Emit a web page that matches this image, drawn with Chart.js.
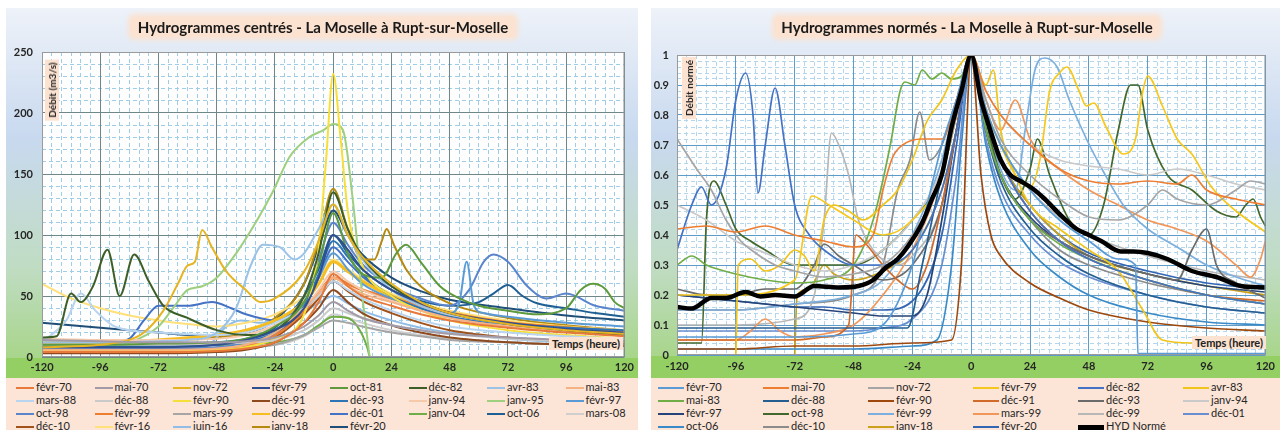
<!DOCTYPE html>
<html><head><meta charset="utf-8">
<script src="https://cdn.jsdelivr.net/npm/chart.js@4.4.1/dist/chart.umd.min.js"></script>
<style>
body{margin:0;background:#fff;width:1284px;height:430px;overflow:hidden;font-family:Lato,'Open Sans',sans-serif;}
.panel{position:absolute;top:8px;height:422px;overflow:hidden;}
.panel canvas{position:absolute;left:0;top:0;}
.title{position:absolute;top:9px;font:bold 15px Lato;color:#1a1a1a;background:#fbe2d1;padding:1px 6px;border-radius:3px;box-shadow:0 0 5px 3px #fbe2d1;white-space:nowrap;transform:translateX(-50%);}
.ytitle{position:absolute;font:bold 10px Lato;color:#222;background:#fbe2d1;padding:1px 3px;transform:translate(-50%,-50%) rotate(-90deg);white-space:nowrap;}
.xtitle{position:absolute;font:bold 11px Lato;color:#222;background:#fbe2d1;padding:0 3px;white-space:nowrap;}
.legend{position:absolute;left:0;top:370px;right:0;bottom:0;background:#fce4d6;display:grid;align-content:start;padding-top:2px;}
.item{height:13px;line-height:13px;font-size:11px;color:#262626;white-space:nowrap;}
.item i{display:inline-block;vertical-align:middle;margin-right:2px;}
</style></head>
<body>
<div class="panel" id="p1" style="left:6px;width:632px;">
  <canvas id="c1" width="632" height="370"></canvas>
  <div class="title" style="left:317px;">Hydrogrammes centrés - La Moselle à Rupt-sur-Moselle</div>
  <div class="ytitle" style="left:46px;top:82px;">Débit (m3/s)</div>
  <div class="xtitle" style="left:543px;top:329px;">Temps (heure)</div>
  <div class="legend" id="l1" style="grid-template-columns:repeat(8,78.5px);padding-left:10px;"></div>
</div>
<div class="panel" id="p2" style="left:651px;width:629px;">
  <canvas id="c2" width="629" height="370"></canvas>
  <div class="title" style="left:316px;">Hydrogrammes normés - La Moselle à Rupt-sur-Moselle</div>
  <div class="ytitle" style="left:38px;top:80px;">Débit normé</div>
  <div class="xtitle" style="left:541px;top:328px;">Temps (heure)</div>
  <div class="legend" id="l2" style="grid-template-columns:repeat(6,105px);padding-left:7px;"></div>
</div>
<script>
// ---- Hydrogrammes centrés (m3/s), [heure, débit]
const q_fevr70 = [[-120,4],[-72,4],[-48,5],[-36,7],[-24,12],[-12,28],[-6,45],[0,68],[6,58],[12,50],[24,42],[36,35],[48,30],[72,24],[96,20],[120,17]];
const q_mai70 = [[-120,14],[-96,13],[-72,12],[-48,12],[-36,13],[-24,16],[-12,25],[-6,34],[0,45],[6,38],[12,32],[24,26],[36,22],[48,19],[72,16],[96,14],[120,13]];
const q_nov72 = [[-120,8],[-96,10],[-84,14],[-78,20],[-70,38],[-64,60],[-60,75],[-57,78],[-54,104],[-50,90],[-44,70],[-36,55],[-30,45],[-24,48],[-12,70],[-6,95],[0,125],[6,100],[12,82],[24,60],[36,45],[48,36],[72,27],[96,22],[120,19]];
const q_fevr79 = [[-120,8],[-96,8],[-72,8],[-48,10],[-36,14],[-24,22],[-12,40],[-6,65],[0,100],[6,88],[12,72],[24,55],[36,44],[48,36],[72,28],[96,23],[120,20]];
const q_oct81 = [[-120,10],[-96,10],[-72,11],[-48,12],[-36,15],[-24,25],[-12,45],[-6,75],[0,118],[6,85],[12,68],[20,65],[26,85],[30,92],[36,78],[44,58],[52,48],[60,42],[72,38],[84,35],[96,40],[102,55],[107,60],[112,56],[116,45],[120,40]];
const q_dec82 = [[-120,16],[-114,17],[-108,52],[-104,45],[-99,58],[-93,88],[-88,50],[-82,84],[-76,62],[-70,42],[-60,32],[-48,22],[-36,18],[-24,22],[-12,50],[-6,85],[0,135],[6,105],[12,82],[24,58],[36,45],[48,36],[72,27],[96,22],[120,18]];
const q_avr83 = [[-120,12],[-96,12],[-72,13],[-60,14],[-48,20],[-40,40],[-34,75],[-29,92],[-22,90],[-16,80],[-12,85],[-6,105],[0,125],[6,100],[12,80],[24,55],[36,42],[48,35],[72,27],[96,22],[120,19]];
const q_mai83 = [[-120,6],[-72,6],[-48,7],[-36,10],[-24,20],[-12,40],[-6,52],[0,65],[6,58],[12,52],[24,45],[36,38],[48,32],[72,25],[96,21],[120,18]];
const q_mars88 = [[-120,12],[-110,30],[-104,52],[-98,38],[-90,25],[-72,20],[-48,18],[-36,20],[-24,28],[-12,40],[-6,50],[0,62],[6,55],[12,48],[24,38],[36,30],[48,25],[72,20],[96,17],[120,15]];
const q_dec88 = [[-120,10],[-72,10],[-48,11],[-24,14],[-12,22],[-6,30],[0,40],[6,36],[12,32],[24,26],[36,22],[48,19],[72,15],[96,13],[120,12]];
const q_fevr90 = [[-120,5],[-72,5],[-48,6],[-36,8],[-24,15],[-12,35],[-6,90],[-3,160],[0,232],[3,180],[6,120],[12,75],[24,50],[36,38],[48,30],[72,22],[96,18],[120,15]];
const q_dec91 = [[-120,3],[-72,3],[-48,4],[-36,6],[-24,12],[-12,28],[-6,40],[0,55],[6,45],[12,36],[24,26],[36,20],[48,16],[72,12],[96,10],[120,9]];
const q_dec93 = [[-120,9],[-72,9],[-48,10],[-36,13],[-24,20],[-12,42],[-6,68],[0,95],[6,82],[12,68],[24,50],[36,40],[48,33],[72,27],[96,24],[120,22]];
const q_janv94 = [[-120,15],[-96,14],[-72,14],[-48,15],[-36,18],[-24,26],[-12,40],[-6,55],[0,70],[6,62],[12,55],[24,46],[36,40],[48,34],[72,26],[96,22],[120,19]];
const q_janv95 = [[-120,8],[-96,9],[-84,12],[-72,25],[-66,40],[-60,55],[-54,58],[-48,65],[-40,85],[-32,110],[-25,135],[-18,164],[-10,180],[-4,186],[0,191],[4,186],[8,130],[12,50],[15,0]];
const q_fevr97 = [[-120,10],[-72,10],[-48,12],[-36,15],[-24,22],[-12,45],[-6,65],[0,85],[6,72],[12,60],[24,48],[36,40],[48,36],[52,45],[55,78],[58,42],[62,36],[72,33],[96,28],[120,25]];
const q_oct98 = [[-120,7],[-72,7],[-48,8],[-36,12],[-24,20],[-12,50],[-6,80],[0,110],[6,92],[12,76],[24,58],[36,48],[48,42],[56,55],[62,78],[66,84],[72,78],[80,58],[88,48],[96,52],[108,42],[120,38]];
const q_fevr99 = [[-120,5],[-72,5],[-48,6],[-36,9],[-24,18],[-12,38],[-6,52],[0,65],[6,60],[12,55],[24,48],[36,42],[48,36],[72,28],[96,24],[120,21]];
const q_mars99 = [[-120,6],[-72,6],[-48,7],[-24,10],[-12,18],[-6,24],[0,30],[6,28],[12,25],[24,20],[36,17],[48,14],[72,12],[96,10],[120,9]];
const q_dec99 = [[-120,12],[-96,12],[-72,14],[-48,18],[-36,22],[-24,30],[-12,45],[-6,60],[0,78],[6,70],[12,62],[24,50],[36,42],[48,36],[72,28],[96,24],[120,21]];
const q_dec01 = [[-120,8],[-96,10],[-84,15],[-78,30],[-72,42],[-60,42],[-50,45],[-42,40],[-36,35],[-24,30],[-12,45],[-6,65],[0,90],[6,78],[12,66],[24,50],[36,40],[48,34],[72,26],[96,22],[120,19]];
const q_janv04 = [[-120,9],[-72,9],[-48,10],[-24,12],[-12,18],[-6,26],[0,33],[6,32],[10,25],[14,8],[15,0]];
const q_oct06 = [[-120,9],[-72,9],[-48,10],[-36,14],[-24,24],[-12,50],[-6,72],[0,100],[6,85],[12,72],[24,55],[36,46],[48,42],[60,45],[66,52],[72,59],[78,50],[84,44],[96,40],[108,36],[120,33]];
const q_mars08 = [[-120,7],[-72,7],[-48,8],[-24,10],[-12,17],[-6,25],[0,35],[6,32],[12,28],[24,22],[36,18],[48,15],[72,12],[96,10],[120,9]];
const q_dec10 = [[-120,4],[-72,4],[-48,5],[-36,8],[-24,16],[-12,35],[-6,48],[0,62],[6,54],[12,46],[24,36],[36,28],[48,22],[72,16],[96,13],[120,11]];
const q_fevr16 = [[-120,60],[-108,48],[-96,40],[-84,34],[-72,30],[-60,27],[-48,25],[-36,28],[-24,35],[-12,50],[-6,65],[0,80],[6,72],[12,64],[24,52],[36,44],[48,38],[72,30],[96,25],[120,22]];
const q_juin16 = [[-120,5],[-72,5],[-56,6],[-50,12],[-44,25],[-38,30],[-30,28],[-24,30],[-12,38],[-6,44],[0,50],[6,44],[12,38],[24,30],[36,24],[48,20],[72,15],[96,12],[120,10]];
const q_janv18 = [[-120,12],[-96,12],[-72,13],[-48,16],[-36,20],[-24,32],[-12,60],[-6,95],[0,138],[6,105],[12,80],[17,80],[20,95],[22,105],[25,92],[30,72],[36,58],[48,44],[72,32],[96,26],[120,22]];
const q_fevr20 = [[-120,28],[-108,26],[-96,24],[-84,22],[-72,20],[-60,18],[-48,17],[-36,20],[-24,30],[-12,60],[-6,90],[0,120],[6,100],[12,84],[24,65],[36,54],[48,47],[72,40],[96,34],[120,30]];

const centresNames = ['févr-70','mai-70','nov-72','févr-79','oct-81','déc-82','avr-83','mai-83','mars-88','déc-88','févr-90','déc-91','déc-93','janv-94','janv-95','févr-97','oct-98','févr-99','mars-99','déc-99','déc-01','janv-04','oct-06','mars-08','déc-10','févr-16','juin-16','janv-18','févr-20'];
const centresSeries = [q_fevr70,q_mai70,q_nov72,q_fevr79,q_oct81,q_dec82,q_avr83,q_mai83,q_mars88,q_dec88,q_fevr90,q_dec91,q_dec93,q_janv94,q_janv95,q_fevr97,q_oct98,q_fevr99,q_mars99,q_dec99,q_dec01,q_janv04,q_oct06,q_mars08,q_dec10,q_fevr16,q_juin16,q_janv18,q_fevr20];
const centresColors = ['#e8793a','#a29aa6','#e6b422','#2f4f8f','#5e9a3c','#3d5f27','#9cc3e6','#f4b183','#b9d4ee','#c9c9c9','#f7df3a','#8e4a1e','#2e75b6','#f6c9ab','#9ecf7f','#5b9bd5','#5a84cc','#ed7d31','#a5a5a5','#f5bd1f','#4472c4','#70ad47','#1f5f93','#d0cece','#a0521a','#ffe07a','#8fbde8','#b58a10','#1f4e79'];
const centresWidths = centresNames.map(n => (n === 'févr-99' || n === 'déc-99') ? 3 : 2);

// ---- Hydrogrammes normés, [heure, débit / débit de pointe]
const n_fevr70 = [[-120,0.06],[-96,0.06],[-72,0.06],[-48,0.07],[-36,0.1],[-24,0.3],[-18,0.5],[-12,0.7],[-6,0.85],[0,1],[6,0.82],[12,0.7],[24,0.55],[36,0.45],[48,0.38],[60,0.32],[67,0.3],[68,0.005],[120,0.005]];
const n_mai70 = [[-120,0.42],[-108,0.43],[-96,0.41],[-84,0.43],[-72,0.4],[-60,0.38],[-48,0.36],[-40,0.4],[-36,0.55],[-32,0.66],[-28,0.7],[-20,0.72],[-12,0.72],[-6,0.85],[0,1],[6,0.88],[12,0.8],[24,0.7],[36,0.62],[48,0.58],[60,0.57],[72,0.58],[84,0.57],[90,0.6],[96,0.55],[108,0.52],[120,0.5]];
const n_nov72 = [[-120,0.72],[-116,0.67],[-112,0.62],[-106,0.55],[-100,0.45],[-94,0.38],[-88,0.34],[-80,0.3],[-72,0.28],[-60,0.26],[-48,0.27],[-36,0.3],[-24,0.4],[-12,0.6],[-6,0.8],[0,1],[6,0.85],[12,0.72],[24,0.6],[36,0.52],[48,0.46],[60,0.45],[72,0.5],[78,0.55],[84,0.52],[96,0.5],[108,0.55],[114,0.58],[120,0.57]];
const n_fevr79 = [[-120,0.2],[-96,0.2],[-72,0.25],[-65,0.53],[-58,0.5],[-48,0.45],[-36,0.4],[-24,0.45],[-12,0.6],[-6,0.8],[0,1],[6,0.82],[12,0.7],[18,0.6],[24,0.56],[28,0.65],[32,0.88],[36,0.94],[39,0.96],[44,0.88],[47,0.83],[50,0.84],[55,0.76],[62,0.67],[67,0.72],[70,0.88],[72,0.93],[78,0.83],[84,0.72],[90,0.67],[98,0.56],[108,0.48],[120,0.41]];
const n_dec82 = [[-120,0.35],[-114,0.5],[-110,0.56],[-106,0.5],[-100,0.62],[-96,0.85],[-92,0.94],[-89,0.8],[-87,0.54],[-84,0.7],[-80,0.89],[-76,0.7],[-72,0.5],[-66,0.4],[-60,0.35],[-48,0.3],[-36,0.3],[-24,0.35],[-12,0.55],[-6,0.75],[0,1],[6,0.8],[12,0.65],[24,0.48],[36,0.38],[48,0.32],[72,0.25],[96,0.2],[120,0.17]];
const n_avr83 = [[-96,0.0],[-95,0.3],[-90,0.32],[-84,0.28],[-78,0.3],[-72,0.35],[-68,0.33],[-64,0.28],[-60,0.45],[-56,0.5],[-50,0.48],[-44,0.45],[-36,0.5],[-30,0.55],[-24,0.65],[-18,0.78],[-12,0.85],[-6,0.95],[0,1],[6,0.9],[9,0.95],[12,0.75],[18,0.6],[24,0.5],[36,0.42],[48,0.35],[60,0.28],[70,0.15],[78,0.05],[90,0.04],[100,0.04]];
const n_mai83 = [[-120,0.3],[-114,0.33],[-108,0.3],[-96,0.27],[-84,0.25],[-72,0.24],[-60,0.25],[-48,0.3],[-40,0.45],[-33,0.7],[-29,0.88],[-27,0.91],[-23,0.9],[-20,0.95],[-16,0.92],[-12,0.94],[-8,0.92],[-4,0.93],[0,1],[6,0.75],[12,0.6],[24,0.45],[36,0.37],[48,0.32],[72,0.25],[96,0.2],[120,0.17]];
const n_dec88 = [[-120,0.09],[-96,0.09],[-72,0.09],[-48,0.09],[-36,0.09],[-26,0.09],[-20,0.3],[-12,0.6],[-6,0.82],[0,1],[6,0.75],[12,0.58],[24,0.42],[36,0.33],[48,0.27],[72,0.2],[96,0.16],[120,0.14]];
const n_fevr90 = [[-120,0.02],[-96,0.02],[-72,0.03],[-48,0.03],[-24,0.04],[-8,0.05],[-4,0.3],[0,1],[4,0.6],[8,0.4],[12,0.33],[24,0.24],[36,0.19],[48,0.15],[72,0.11],[96,0.09],[120,0.08]];
const n_dec91 = [[-120,0.05],[-96,0.05],[-72,0.05],[-60,0.06],[-50,0.1],[-47,0.4],[-44,0.38],[-36,0.3],[-30,0.25],[-24,0.22],[-18,0.3],[-12,0.5],[-6,0.75],[0,1],[6,0.8],[12,0.65],[24,0.48],[36,0.38],[48,0.32],[72,0.25],[96,0.2],[120,0.18]];
const n_dec93 = [[-120,0.22],[-108,0.2],[-96,0.2],[-84,0.22],[-72,0.22],[-64,0.3],[-60,0.37],[-54,0.33],[-48,0.3],[-36,0.25],[-24,0.3],[-12,0.5],[-6,0.75],[0,1],[6,0.75],[12,0.6],[24,0.45],[36,0.38],[48,0.33],[72,0.27],[84,0.25],[90,0.35],[96,0.42],[100,0.3],[108,0.24],[120,0.19]];
const n_janv94 = [[-120,0.5],[-108,0.45],[-96,0.38],[-84,0.34],[-72,0.3],[-60,0.28],[-48,0.3],[-36,0.35],[-24,0.45],[-12,0.62],[-6,0.8],[0,1],[6,0.88],[12,0.8],[24,0.7],[36,0.65],[48,0.63],[60,0.62],[72,0.6],[84,0.62],[96,0.6],[108,0.57],[120,0.55]];
const n_fevr97 = [[-120,0.2],[-96,0.18],[-72,0.16],[-48,0.14],[-36,0.13],[-24,0.13],[-18,0.2],[-12,0.45],[-6,0.75],[0,1],[6,0.75],[12,0.6],[24,0.46],[36,0.38],[48,0.33],[72,0.27],[96,0.23],[120,0.21]];
const n_oct98 = [[-120,0.04],[-110,0.04],[-108,0.45],[-105,0.58],[-100,0.5],[-96,0.42],[-90,0.38],[-84,0.35],[-72,0.3],[-60,0.3],[-48,0.3],[-36,0.35],[-24,0.45],[-12,0.6],[-6,0.8],[0,1],[6,0.78],[12,0.6],[18,0.52],[24,0.62],[27,0.72],[32,0.6],[40,0.45],[48,0.4],[54,0.5],[60,0.75],[65,0.9],[68,0.9],[72,0.75],[80,0.6],[90,0.55],[100,0.48],[108,0.46],[112,0.5],[115,0.52],[118,0.46],[120,0.43]];
const n_fevr99 = [[-120,0.15],[-96,0.15],[-72,0.17],[-48,0.2],[-36,0.25],[-24,0.4],[-12,0.65],[-6,0.85],[0,1],[6,0.8],[12,0.62],[18,0.55],[22,0.75],[26,0.95],[30,0.99],[35,0.96],[40,0.85],[47,0.72],[54,0.61],[62,0.5],[72,0.42],[84,0.36],[96,0.3],[108,0.26],[120,0.23]];
const n_mars99 = [[-120,0.05],[-96,0.05],[-90,0.08],[-84,0.12],[-78,0.08],[-72,0.06],[-60,0.07],[-48,0.1],[-36,0.2],[-24,0.35],[-12,0.6],[-6,0.8],[0,1],[6,0.85],[12,0.75],[18,0.85],[24,0.72],[36,0.62],[48,0.55],[60,0.5],[72,0.45],[84,0.42],[96,0.38],[108,0.3],[114,0.26],[118,0.32],[120,0.38]];
const n_dec99 = [[-120,0.1],[-96,0.1],[-72,0.12],[-64,0.2],[-60,0.45],[-57,0.74],[-54,0.7],[-50,0.6],[-46,0.45],[-40,0.35],[-30,0.3],[-24,0.33],[-12,0.5],[-6,0.75],[0,1],[6,0.82],[12,0.7],[24,0.55],[36,0.46],[48,0.4],[72,0.33],[96,0.28],[120,0.25]];
const n_dec01 = [[-120,0.08],[-96,0.08],[-72,0.08],[-48,0.08],[-36,0.09],[-24,0.12],[-12,0.3],[-6,0.6],[0,1],[6,0.72],[12,0.55],[24,0.4],[36,0.31],[48,0.26],[72,0.2],[96,0.16],[120,0.14]];
const n_oct06 = [[-120,0.02],[-96,0.02],[-72,0.02],[-48,0.02],[-24,0.03],[-14,0.05],[-8,0.3],[-4,0.7],[0,1],[6,0.7],[12,0.52],[24,0.35],[36,0.26],[48,0.2],[72,0.14],[96,0.11],[120,0.1]];
const n_dec10 = [[-120,0.15],[-96,0.15],[-72,0.17],[-48,0.2],[-36,0.3],[-30,0.55],[-25,0.65],[-21,0.81],[-17,0.65],[-12,0.7],[-6,0.85],[0,1],[6,0.75],[12,0.6],[24,0.45],[36,0.35],[48,0.3],[72,0.24],[96,0.2],[120,0.17]];
const n_janv18 = [[-72,0.0],[-71,0.2],[-66,0.22],[-60,0.3],[-56,0.27],[-48,0.25],[-36,0.28],[-24,0.35],[-12,0.55],[-6,0.75],[0,1],[6,0.8],[12,0.65],[24,0.5],[36,0.4],[48,0.33],[72,0.27],[96,0.23],[120,0.2]];
const n_fevr20 = [[-120,0.2],[-108,0.19],[-96,0.18],[-84,0.17],[-72,0.16],[-60,0.16],[-48,0.15],[-36,0.15],[-24,0.18],[-12,0.4],[-6,0.7],[0,1],[6,0.8],[12,0.65],[24,0.5],[36,0.4],[48,0.34],[72,0.28],[96,0.24],[120,0.22]];
const n_hyd = [[-120,0.16],[-114,0.155],[-106,0.19],[-100,0.19],[-92,0.21],[-86,0.195],[-80,0.2],[-72,0.195],[-64,0.23],[-54,0.225],[-46,0.23],[-40,0.25],[-35,0.29],[-30,0.32],[-26,0.36],[-20,0.44],[-16,0.52],[-12,0.6],[-8,0.76],[-4,0.88],[0,1],[4,0.85],[7,0.77],[12,0.65],[16,0.6],[20,0.58],[25,0.555],[30,0.52],[36,0.47],[43,0.42],[48,0.4],[53,0.38],[61,0.345],[66,0.345],[72,0.34],[80,0.32],[90,0.28],[100,0.26],[110,0.23],[120,0.225]];

const normesNames = ['févr-70','mai-70','nov-72','févr-79','déc-82','avr-83','mai-83','déc-88','févr-90','déc-91','déc-93','janv-94','févr-97','oct-98','févr-99','mars-99','déc-99','déc-01','oct-06','déc-10','janv-18','févr-20','HYD Normé'];
const normesSeries = [n_fevr70,n_mai70,n_nov72,n_fevr79,n_dec82,n_avr83,n_mai83,n_dec88,n_fevr90,n_dec91,n_dec93,n_janv94,n_fevr97,n_oct98,n_fevr99,n_mars99,n_dec99,n_dec01,n_oct06,n_dec10,n_janv18,n_fevr20,n_hyd];
const normesColors = ['#5b9bd5','#ed7d31','#a5a5a5','#f7c81c','#4472c4','#f0c419','#70ad47','#255e91','#9e480e','#d26a2a','#6b6b6b','#c9c9c9','#264478','#43682b','#7cafdd','#f1975a','#b7b7b7','#698ed0','#3a8ac8','#8c8c8c','#c9a21a','#3366b3','#000000'];
const normesWidths = normesNames.map(n => n === 'HYD Normé' ? 4.5 : 1.7);

const hourTicks = [-120, -96, -72, -48, -24, 0, 24, 48, 72, 96, 120];

const panelBg = {
  id: 'panelBg',
  beforeDraw(chart) {
    const {ctx, width, height, chartArea: a} = chart;
    const g = ctx.createLinearGradient(0, 0, 0, height);
    g.addColorStop(0, '#eef2f9');
    g.addColorStop(0.35, '#c8d9ef');
    g.addColorStop(0.7, '#c0dcc3');
    g.addColorStop(1, '#a3d47e');
    ctx.save();
    ctx.fillStyle = g;
    ctx.fillRect(0, 0, width, height);
    ctx.fillStyle = '#93cf63';
    ctx.fillRect(0, a.bottom + 1, width, height - a.bottom);
    ctx.fillStyle = '#fefefe';
    ctx.fillRect(a.left, a.top, a.right - a.left, a.bottom - a.top);
    ctx.restore();
  },
  afterDraw(chart) {
    const {ctx, chartArea: a} = chart;
    ctx.save();
    ctx.strokeStyle = '#9a9a9a';
    ctx.lineWidth = 1;
    ctx.strokeRect(a.left + 0.5, a.top + 0.5, a.right - a.left - 1, a.bottom - a.top - 1);
    ctx.restore();
  }
};

function makeChart(id, legendId, names, colors, widths, series, o) {
  const datasets = series.map((s, i) => ({
    label: names[i],
    data: s.map(p => ({x: p[0], y: p[1]})),
    borderColor: colors[i],
    borderWidth: widths[i],
    pointRadius: 0,
    fill: false,
    tension: 0.4,
    cubicInterpolationMode: 'monotone',
    order: names[i] === 'HYD Normé' ? -1 : i
  }));
  const tickFont = {family: 'Lato', weight: 'bold', size: 11};
  const chart = new Chart(document.getElementById(id), {
    type: 'line',
    data: {datasets},
    plugins: [panelBg],
    options: {
      responsive: false,
      animation: false,
      layout: {padding: {top: o.top, right: o.right, left: 0, bottom: 0}},
      plugins: {legend: {display: false}, tooltip: {enabled: false}},
      scales: {
        xm: {
          type: 'linear', position: 'bottom', min: -120, max: 120, z: -1,
          ticks: {display: false, stepSize: 4},
          grid: {color: o.minorColor, drawTicks: false, lineWidth: 1},
          border: {display: false, dash: [4, 3]},
          afterFit: s => { s.height = 0; }
        },
        ym: {
          type: 'linear', position: 'left', min: 0, max: o.ymax, z: -1,
          ticks: {display: false, stepSize: o.yminor},
          grid: {color: o.minorColor, drawTicks: false, lineWidth: 1},
          border: {display: false, dash: [4, 3]},
          afterFit: s => { s.width = 0; }
        },
        x: {
          type: 'linear', position: 'bottom', min: -120, max: 120,
          afterBuildTicks: s => { s.ticks = hourTicks.map(v => ({value: v})); },
          ticks: {font: tickFont, color: '#262626', padding: o.xpad, autoSkip: false, maxRotation: 0},
          grid: {color: o.gridColor, drawTicks: false, lineWidth: 1},
          border: {display: false},
          afterFit: s => { s.height = o.xh; }
        },
        y: {
          type: 'linear', position: 'left', min: 0, max: o.ymax,
          ticks: {font: tickFont, color: '#262626', stepSize: o.ystep, padding: o.ypad, autoSkip: false,
            callback: v => String(Math.round(v * 100) / 100)},
          grid: {color: o.gridColor, drawTicks: false, lineWidth: 1},
          border: {display: false},
          afterFit: s => { s.width = o.yw; }
        }
      }
    }
  });
  const box = document.getElementById(legendId);
  chart.data.datasets.forEach(d => {
    const it = document.createElement('div');
    it.className = 'item';
    const ln = document.createElement('i');
    ln.style.width = o.keyW + 'px';
    ln.style.height = (d.borderWidth > 3 ? 5 : 2.5) + 'px';
    ln.style.background = d.borderColor;
    it.appendChild(ln);
    it.appendChild(document.createTextNode(d.label));
    box.appendChild(it);
  });
  return chart;
}

makeChart('c1', 'l1', centresNames, centresColors, centresWidths, centresSeries, {
  top: 44, right: 13, xh: 21, yw: 36, ymax: 250, ystep: 50, yminor: 10,
  xpad: 4, ypad: 9, keyW: 18,
  minorColor: '#9fcce6',
  gridColor: '#6f8788'
});
makeChart('c2', 'l2', normesNames, normesColors, normesWidths, normesSeries, {
  top: 47, right: 10, xh: 23, yw: 26, ymax: 1, ystep: 0.1, yminor: 0.02,
  xpad: 5, ypad: 8, keyW: 26,
  minorColor: '#b4d6ec',
  gridColor: '#5d9cc8'
});
</script>
</body></html>
